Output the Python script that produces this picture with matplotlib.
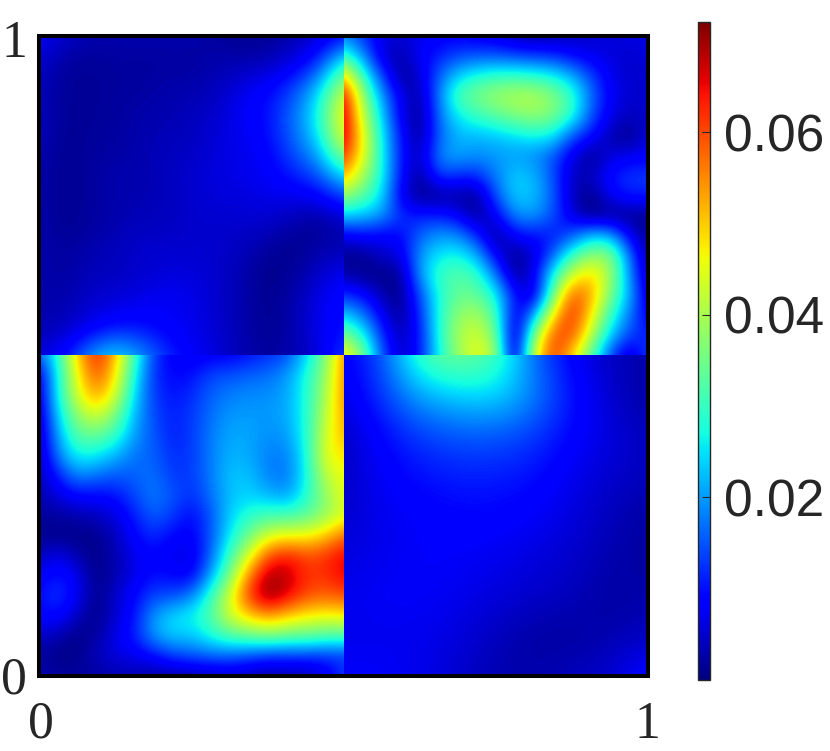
import matplotlib
matplotlib.use('Agg')
import matplotlib.pyplot as plt
from matplotlib.patches import Rectangle
import numpy as np

# values, in units of 1e-3, first row is the top of each block
top_left = [
    [8, 5, 3, 3, 3, 3, 3, 2, 1, 1, 3, 5, 8],
    [5, 2, 1.5, 2, 2, 2, 2, 3, 3, 4, 6, 12, 30],
    [4, 1.5, 1.5, 2, 2, 3, 3, 4, 7, 9, 14, 24, 44],
    [4, 1.5, 1.5, 2, 3, 3, 4, 5, 8, 10, 17, 28, 50],
    [4, 1, 2, 2, 3, 4, 4, 6, 7, 9, 16, 24, 46],
    [3, 1, 2, 3, 3, 4, 5, 6, 7, 8, 12, 17, 30],
    [3, 1, 2, 3, 3, 4, 5, 6, 6, 7, 7, 8, 14],
    [3, 1, 2, 3, 4, 4, 5, 5, 5, 5, 3, 1, 4],
    [3, 2, 3, 4, 5, 5, 5, 5, 4, 2, 0.5, 3, 3],
    [3, 2, 4, 4, 5, 6, 6, 5, 3, 0.5, 2, 5, 8],
    [3, 3, 5, 6, 7, 8, 7, 5, 3, 1, 3, 7, 10],
    [3, 4, 7, 10, 10, 8, 7, 5, 3, 1, 3, 7, 10],
    [6, 9, 20, 26, 20, 12, 8, 6, 3, 2, 3, 6, 14],
]
top_right = [
    [18, 12, 7, 5, 7, 8, 8, 7, 6, 3, 2, 3, 4, 5, 6, 6, 7],
    [30, 20, 5, 3, 8, 11, 14, 15, 15, 14, 13, 12, 9, 7, 6, 5, 6],
    [50, 30, 14, 1, 5, 16, 24, 28, 30, 30, 29, 27, 22, 14, 7, 5, 5],
    [66, 38, 20, 7, 2, 18, 32, 36, 39, 41, 41, 37, 30, 17, 8, 5, 5],
    [68, 42, 24, 7, 0.5, 17, 26, 30, 33, 36, 38, 36, 29, 15, 7, 4, 5],
    [68, 46, 26, 10, 0.5, 16, 22, 22, 23, 25, 27, 26, 15, 10, 3, 0.5, 6],
    [62, 46, 27, 10, 3, 19, 21, 19, 20, 20, 19, 15, 7, 0.5, 6, 7, 8],
    [52, 40, 27, 10, 1, 14, 12, 12, 18, 24, 22, 15, 4, 4, 10, 13, 13],
    [38, 33, 25, 7, 0.5, 1, 2, 1, 15, 24, 23, 16, 4, 0.5, 8, 11, 11],
    [24, 23, 20, 12, 11, 11, 8, 1, 8, 19, 20, 15, 6, 0, 0.5, 0.5, 1],
    [7, 9, 8, 9, 16, 20, 19, 12, 0.5, 9, 10, 10, 15, 23, 22, 8, 1],
    [1, 1, 5, 6, 20, 26, 27, 22, 8, 0.5, 5, 16, 30, 38, 38, 18, 1],
    [3, 1, 0.5, 1, 20, 30, 33, 30, 18, 1, 7, 27, 44, 50, 40, 20, 3],
    [12, 10, 3, 0.5, 14, 28, 34, 34, 27, 10, 4, 34, 60, 54, 36, 22, 5],
    [24, 18, 8, 0.5, 12, 28, 38, 40, 32, 5, 20, 48, 64, 48, 30, 18, 7],
    [36, 28, 12, 3, 10, 28, 40, 44, 36, 0.5, 36, 60, 60, 42, 24, 14, 11],
    [50, 36, 15, 4, 10, 27, 38, 46, 40, 1, 44, 62, 50, 32, 14, 4, 14],
]
bottom_left = [
    [16, 28, 50, 64, 52, 30, 13, 8, 7, 8, 8, 10, 12, 14, 24, 36, 56],
    [6, 27, 46, 60, 48, 27, 12, 9, 10, 14, 15, 16, 17, 20, 28, 38, 56],
    [5, 27, 44, 54, 44, 24, 13, 10, 12, 16, 18, 19, 19, 21, 28, 40, 56],
    [4, 24, 38, 44, 36, 22, 14, 11, 13, 17, 20, 20, 20, 21, 28, 42, 54],
    [3, 21, 33, 34, 30, 20, 15, 11, 13, 18, 21, 21, 19, 20, 28, 44, 52],
    [3, 18, 27, 26, 22, 17, 16, 12, 13, 18, 22, 21, 18, 18, 27, 46, 48],
    [3, 11, 19, 17, 15, 16, 17, 13, 13, 18, 23, 23, 18, 17, 27, 42, 46],
    [3, 6, 9, 9, 10, 14, 18, 15, 12, 17, 23, 24, 22, 20, 28, 38, 46],
    [2, 2, 3, 4, 6, 11, 16, 13, 9, 15, 24, 29, 31, 31, 33, 38, 44],
    [1, 0.5, 0.5, 1, 4, 9, 12, 9, 8, 15, 26, 35, 44, 46, 46, 50, 58],
    [4, 7, 3, 0.5, 3, 7, 9, 7, 6, 16, 31, 44, 60, 64, 60, 62, 66],
    [7, 11, 7, 0.5, 3, 7, 10, 9, 8, 21, 36, 56, 70, 68, 62, 62, 66],
    [10, 13, 8, 0.5, 5, 9, 14, 14, 18, 30, 44, 62, 72, 66, 60, 58, 60],
    [8, 10, 4, 0.5, 5, 10, 20, 25, 27, 32, 44, 50, 54, 50, 47, 46, 47],
    [5, 3, 0.5, 2, 7, 11, 20, 24, 23, 28, 32, 34, 36, 34, 34, 32, 32],
    [2, 0.5, 1, 4, 6, 7, 9, 13, 15, 16, 16, 14, 12, 12, 12, 12, 12],
    [4, 2, 2, 2, 3, 3, 2, 2, 2, 3, 4, 3, 2, 3, 3, 6, 14],
]
bottom_right = [
    [8, 14, 32, 36, 32, 16, 8, 4, 3],
    [6, 13, 21, 24, 25, 19, 10, 5, 2],
    [4, 9, 13, 15, 15, 13, 9, 6, 4],
    [4, 8, 10, 11, 11, 10, 7, 5, 4],
    [5, 7, 8, 9, 9, 8, 6, 4, 2],
    [6, 7, 8, 8, 7, 6, 5, 3, 2],
    [7, 8, 8, 7, 6, 5, 4, 2, 3],
    [7, 7, 7, 6, 4, 2, 2, 3, 4],
    [8, 8, 7, 5, 3, 3, 4, 5, 10],
]
cbar_ticks = [0.02, 0.04, 0.06]
cbar_labels = ['0.02', '0.04', '0.06']
vmin = 0.0
vmax = 0.0721

W, H = 830, 751
fig = plt.figure(figsize=(W / 100, H / 100), dpi=100)
ax = fig.add_axes([39 / W, 1 - 676 / H, 609 / W, 640 / H])

# the four blocks meet on whole pixels, x=344 and y=355
split_x = (344 - 39) / 609
split_y = (676 - 355) / 640


def draw_block(vals, x0, x1, y0, y1):
    # grid points sit on the block edges, so the image runs half a cell further and gets clipped
    z = np.array(vals) / 1000
    dx = (x1 - x0) / (z.shape[1] - 1) / 2
    dy = (y1 - y0) / (z.shape[0] - 1) / 2
    im = ax.imshow(z, cmap='jet', vmin=vmin, vmax=vmax, interpolation='bicubic',
                   interpolation_stage='data', aspect='auto',
                   extent=[x0 - dx, x1 + dx, y0 - dy, y1 + dy], origin='upper')
    im.set_clip_path(Rectangle((x0, y0), x1 - x0, y1 - y0, transform=ax.transData))
    return im


draw_block(top_left, 0, split_x, split_y, 1)
draw_block(top_right, split_x, 1, split_y, 1)
draw_block(bottom_left, 0, split_x, 0, split_y)
im = draw_block(bottom_right, split_x, 1, 0, split_y)
ax.set_xlim(0, 1)
ax.set_ylim(0, 1)
ax.set_xticks([])
ax.set_yticks([])
for s in ax.spines.values():
    s.set_linewidth(2.9)
    s.set_color('black')


def label(x, y, s):
    fig.text(x / W, 1 - y / H, s, family='Liberation Serif', fontsize=37.3, color='#262626',
             ha='center', va='baseline')


label(41, 738, '0')
label(647, 738, '1')
label(14, 693, '0')
label(14, 57, '1')

cax = fig.add_axes([697.5 / W, 1 - 680 / H, 12.5 / W, 658 / H])
cb = fig.colorbar(im, cax=cax)
cb.set_ticks(cbar_ticks)
cb.set_ticklabels(cbar_labels)
cb.outline.set_linewidth(1)
cb.outline.set_edgecolor('#262626')
cax.tick_params(direction='in', length=5.5, width=0.8, color='#262626', pad=10)
for t in cax.get_yticklabels():
    t.set_family('Liberation Sans')
    t.set_fontsize(37)
    t.set_color('#262626')

fig.savefig('out.png', dpi=100)
